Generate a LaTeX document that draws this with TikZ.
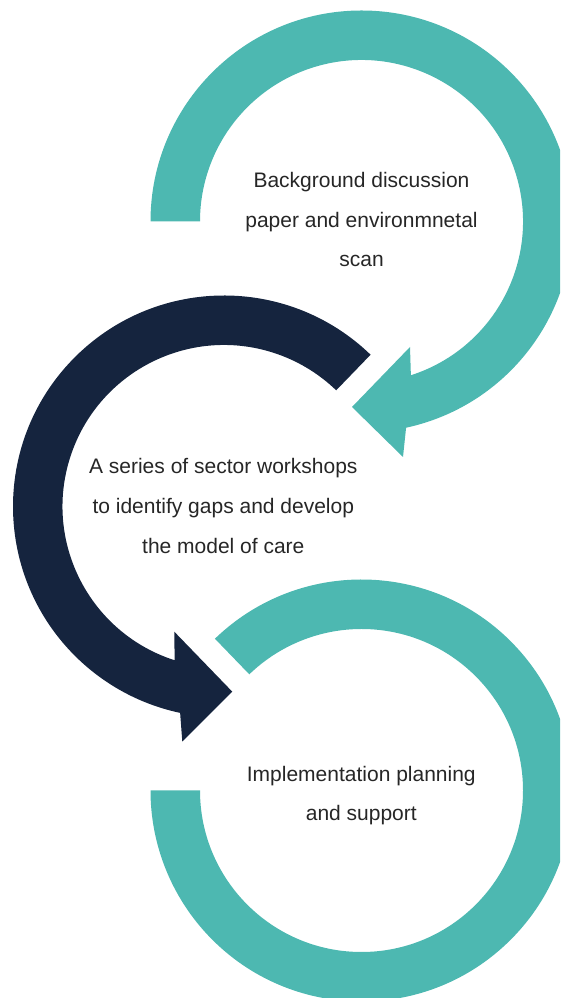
\documentclass[tikz,border=0pt]{standalone}
\usepackage{fontspec}
\setmainfont{Liberation Sans}
\usetikzlibrary{calc}
\definecolor{ringteal}{HTML}{4DB8B1}
\definecolor{ringnavy}{HTML}{15243E}
\definecolor{txt}{HTML}{262626}
\begin{document}
\begin{tikzpicture}[x=1pt,y=1pt,
  lbl/.style={anchor=base, text=txt, font=\fontsize{21}{25}\selectfont, inner sep=0pt}]
\useasboundingbox (0,0) rectangle (560,998);
\clip (0,0) rectangle (560,998);
\coordinate (T) at (361.5,776.5);
\coordinate (M) at (224,491.5);
\coordinate (B) at (361.5,207.5);
% top ring with arrow
\fill[ringteal] ($(T)+(180:211)$) arc[start angle=180,end angle=-77.8,radius=211]
  -- (403,541) -- (352,591) -- (410,651)
  -- ($(T)+(-72.2:161.5)$) arc[start angle=-72.2,end angle=180,radius=161.5] -- cycle;
% middle ring with arrow
\fill[ringnavy] ($(M)+(46:211)$) arc[start angle=46,end angle=258,radius=211]
  -- (182.3,256.3) -- (232.3,306.3) -- (174.3,366.3)
  -- ($(M)+(252.2:161.5)$) arc[start angle=252.2,end angle=46,radius=161.5] -- cycle;
% bottom ring
\fill[ringteal] ($(B)+(134:211)$) arc[start angle=134,end angle=-180,radius=211]
  -- ($(B)+(180:161.5)$) arc[start angle=-180,end angle=134,radius=161.5] -- cycle;
% texts
\node[lbl] (t1) at (361.5,810) {Background discussion};
\node[lbl] (t2) at (361.5,770) {paper and environmnetal};
\node[lbl] (t3) at (361.5,731) {scan};
\node[lbl] (m1) at (223.3,524) {A series of sector workshops};
\node[lbl] (m2) at (223.3,484) {to identify gaps and develop};
\node[lbl] (m3) at (223.3,444) {the model of care};
\node[lbl] (b1) at (361.3,216) {Implementation planning};
\node[lbl] (b2) at (361.3,177) {and support};
\end{tikzpicture}
\end{document}
